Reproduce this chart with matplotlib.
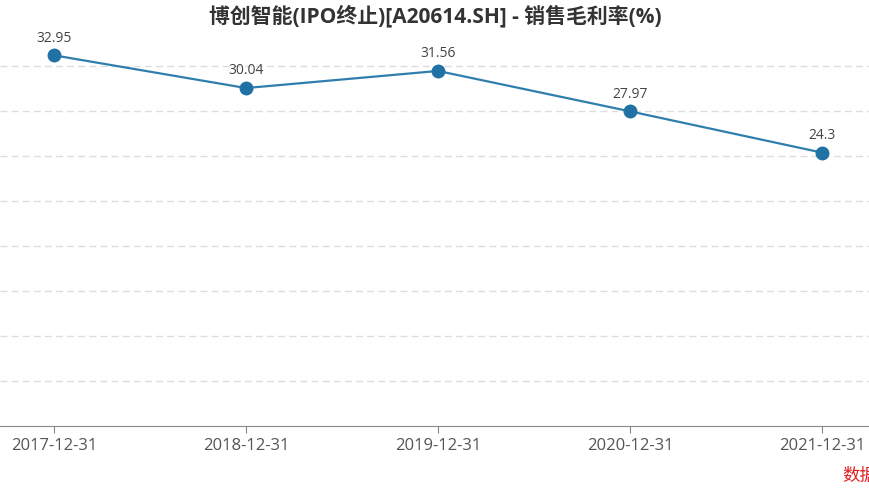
import matplotlib.pyplot as plt

plt.rcParams['font.family'] = ['Open Sans', 'Noto Sans CJK SC', 'DejaVu Sans']

dates = ["2017-12-31", "2018-12-31", "2019-12-31", "2020-12-31", "2021-12-31"]
margin = [32.95, 30.04, 31.56, 27.97, 24.3]
labels = ["32.95", "30.04", "31.56", "27.97", "24.3"]
grid_ticks = [4, 8, 12, 16, 20, 24, 28, 32]

fig = plt.figure(figsize=(8.7, 4.92), dpi=100)
# axes: bottom at y=426px, scale ~11.25 px per unit, ylim 0..36
ax = fig.add_axes([0, 66 / 492, 1, 405 / 492])
ax.set_ylim(0, 36)
ax.set_xlim(-54 / 192, (870 - 54) / 192)

idx = list(range(len(dates)))
ax.plot(idx, margin, color="#2f7fae", linewidth=1.6, marker="o",
        markersize=9, markerfacecolor="#1f72a3", markeredgecolor="#1f72a3", zorder=3)
for i, v, t in zip(idx, margin, labels):
    ax.annotate(t, (i, v), xytext=(0, 7), textcoords="offset points",
                ha="center", va="bottom", fontsize=10, color="#444444")

ax.set_yticks(grid_ticks)
ax.yaxis.grid(True, linestyle=(0, (5, 3)), color="#dddddd", linewidth=1)
ax.tick_params(axis="y", left=False, labelleft=False)
ax.set_xticks(idx)
ax.set_xticklabels(dates, fontsize=12, color="#555555")
ax.tick_params(axis="x", length=5, color="#888888", pad=4)
for s in ["top", "right", "left"]:
    ax.spines[s].set_visible(False)
ax.spines["bottom"].set_color("#888888")
ax.set_axisbelow(True)

fig.text(0.5, 1 - 16 / 492, "博创智能(IPO终止)[A20614.SH] - 销售毛利率(%)",
         ha="center", va="center", fontsize=15, fontweight="bold", color="#333333")
fig.text(842 / 870, 1 - 476 / 492, "数据来源：公司公告", ha="left", va="center",
         fontsize=12.5, color="#e02020")

fig.savefig("out.png", dpi=100)
